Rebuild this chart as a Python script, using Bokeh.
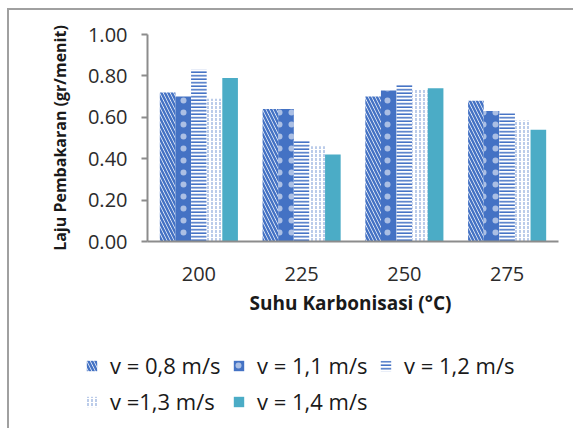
from bokeh.plotting import figure
from bokeh.layouts import column
from bokeh.models import (FactorRange, Range1d, Legend, LegendItem, NumeralTickFormatter,
                          FixedTicker, ColumnDataSource)
from bokeh.transform import dodge
from bokeh.embed import file_html
from bokeh.resources import INLINE

categories = ["200", "225", "250", "275"]
v08 = [0.72, 0.64, 0.70, 0.68]
v11 = [0.70, 0.64, 0.73, 0.63]
v12 = [0.83, 0.49, 0.76, 0.62]
v13 = [0.69, 0.46, 0.735, 0.585]
v14 = [0.79, 0.42, 0.74, 0.54]
series_labels = ["v = 0,8 m/s", "v = 1,1 m/s", "v = 1,2 m/s", "v =1,3 m/s", "v = 1,4 m/s"]
y_ticks = [0.0, 0.2, 0.4, 0.6, 0.8, 1.0]

FONT = "Open Sans"
BLUE = "#4472C4"
LIGHT = "#8EA9DB"
TEAL = "#4BACC6"
AXIS = "#8c8c8c"

p = figure(x_range=FactorRange(*categories), y_range=Range1d(0, 1.0),
           frame_width=411, frame_height=207,
           min_border_left=138, min_border_right=15, min_border_top=24, min_border_bottom=99,
           output_backend="svg", toolbar_location=None)
p.frame_align = False
p.outline_line_color = None
p.xgrid.grid_line_color = None
p.ygrid.grid_line_color = None

source = ColumnDataSource(dict(cat=categories, v08=v08, v11=v11, v12=v12, v13=v13, v14=v14))

w = 0.152
styles = [
    dict(fill_color="white", hatch_pattern="\\", hatch_color=BLUE, hatch_scale=7, hatch_weight=2.5),
    dict(fill_color=BLUE, hatch_pattern=".", hatch_color="white", hatch_scale=12, hatch_weight=0.5, hatch_alpha=0.55),
    dict(fill_color="white", hatch_pattern="-", hatch_color=BLUE, hatch_scale=3.5, hatch_weight=1.6),
    dict(fill_color="white", hatch_pattern=":", hatch_color=LIGHT, hatch_scale=4, hatch_weight=1.2),
    dict(fill_color=TEAL),
]
cols = ["v08", "v11", "v12", "v13", "v14"]
offsets = [-2 * w, -w, 0, w, 2 * w]
for col, off, st in zip(cols, offsets, styles):
    p.vbar(x=dodge("cat", off, range=p.x_range), top=col, width=w, source=source,
           line_color=None, **st)

p.yaxis.ticker = FixedTicker(ticks=y_ticks)
p.yaxis.formatter = NumeralTickFormatter(format="0.00")
for ax in (p.xaxis[0], p.yaxis[0]):
    ax.axis_line_color = AXIS
    ax.axis_line_width = 2
    ax.major_label_text_font = FONT
    ax.major_label_text_font_size = "20px"
    ax.major_label_text_color = "#2b2b2b"
    ax.axis_label_text_font = FONT
    ax.axis_label_text_font_style = "bold"
    ax.axis_label_text_color = "#1a1a1a"
    ax.minor_tick_line_color = None

p.yaxis.major_tick_line_color = AXIS
p.yaxis.major_tick_line_width = 2
p.yaxis.major_tick_out = 6
p.yaxis.major_tick_in = 0
p.yaxis.major_label_standoff = 14
p.yaxis.axis_label = "Laju Pembakaran (gr/menit)"
p.yaxis.axis_label_text_font_size = "16px"
p.yaxis.axis_label_standoff = 14

p.xaxis.major_tick_line_color = None
p.xaxis.major_label_standoff = 19
p.xaxis.axis_label = "Suhu Karbonisasi  (°C)"
p.xaxis.axis_label_text_font_size = "19px"
p.xaxis.axis_label_standoff = 6

# legend panel: the same bars, drawn against a value range that keeps them out of view
lg = figure(width=564, height=88, x_range=FactorRange(*categories), y_range=Range1d(5, 6),
            min_border_left=76, min_border_top=10, min_border_right=0, min_border_bottom=0,
            x_axis_location=None, y_axis_location=None,
            output_backend="svg", toolbar_location=None)
lg.frame_align = False
lg.outline_line_color = None
lg.xgrid.grid_line_color = None
lg.ygrid.grid_line_color = None
items = []
for lab, col, off, st in zip(series_labels, cols, offsets, styles):
    r = lg.vbar(x=dodge("cat", off, range=lg.x_range), top=col, width=w, source=source,
                line_color=None, **st)
    items.append(LegendItem(label=lab, renderers=[r]))
legend = Legend(items=items, orientation="horizontal", ncols=3, location="top_left",
                label_text_font=FONT, label_text_font_size="22px", label_text_color="#1a1a1a",
                glyph_width=13, glyph_height=13, spacing=6, label_standoff=12, label_width=116,
                border_line_color=None, background_fill_alpha=0, padding=0, margin=0)
lg.add_layout(legend, "center")

layout = column(p, lg, spacing=0)
layout.styles = {"margin-left": "7px", "margin-top": "8px",
                 "border-top": "2px solid #a0a0a0", "border-left": "2px solid #a0a0a0"}

open("out.html", "w").write(file_html(layout, INLINE))
